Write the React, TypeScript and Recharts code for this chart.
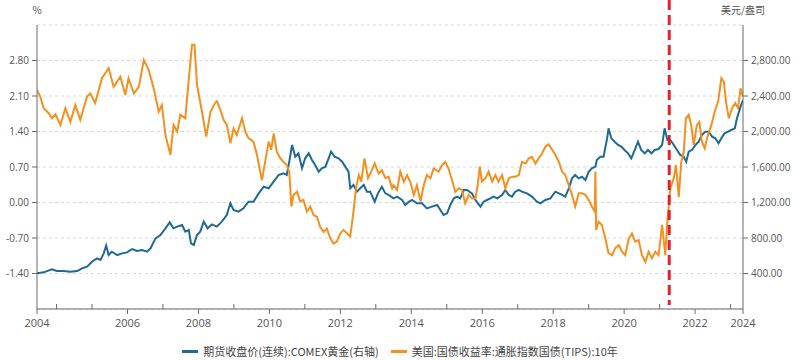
import React from 'react';
import { LineChart, Line, XAxis, YAxis, CartesianGrid, ReferenceLine, Legend } from 'recharts';

// ---- Data ----
const goldName = '期货收盘价(连续):COMEX黄金(右轴)';
const tipsName = '美国:国债收益率:通胀指数国债(TIPS):10年';

const goldDates = [
  2003.45, 2003.64, 2003.87, 2004.01, 2004.2, 2004.39, 2004.58, 2004.72, 2004.86, 2005.0,
  2005.14, 2005.24, 2005.33, 2005.4, 2005.47, 2005.56, 2005.71, 2005.85, 2005.99, 2006.13,
  2006.27, 2006.41, 2006.55, 2006.65, 2006.79, 2006.93, 2007.07, 2007.19, 2007.3, 2007.4,
  2007.54, 2007.63, 2007.73, 2007.79, 2007.87, 2007.96, 2008.05, 2008.15, 2008.26, 2008.38,
  2008.52, 2008.66, 2008.8, 2008.9, 2008.99, 2009.13, 2009.27, 2009.41, 2009.55, 2009.7,
  2009.84, 2009.98, 2010.12, 2010.26, 2010.4, 2010.49, 2010.56, 2010.64, 2010.73, 2010.82,
  2010.92, 2011.01, 2011.11, 2011.2, 2011.29, 2011.39, 2011.48, 2011.58, 2011.67, 2011.74,
  2011.84, 2011.95, 2012.05, 2012.14, 2012.23, 2012.28, 2012.37, 2012.47, 2012.56, 2012.66,
  2012.75, 2012.84, 2012.97, 2013.06, 2013.17, 2013.27, 2013.36, 2013.5, 2013.6, 2013.74,
  2013.83, 2013.93, 2014.02, 2014.16, 2014.3, 2014.44, 2014.58, 2014.73, 2014.82, 2014.91,
  2015.01, 2015.1, 2015.2, 2015.29, 2015.38, 2015.48, 2015.57, 2015.71, 2015.81, 2015.95,
  2016.04, 2016.13, 2016.23, 2016.32, 2016.42, 2016.56, 2016.65, 2016.75, 2016.84, 2016.93,
  2017.03, 2017.12, 2017.26, 2017.4, 2017.54, 2017.64, 2017.78, 2017.92, 2018.06, 2018.16,
  2018.25, 2018.34, 2018.44, 2018.53, 2018.62, 2018.72, 2018.81, 2018.91, 2019.0, 2019.09,
  2019.19, 2019.23, 2019.33, 2019.42, 2019.52, 2019.56, 2019.64, 2019.73, 2019.83, 2019.92,
  2020.01, 2020.11, 2020.2, 2020.3, 2020.39, 2020.48, 2020.58, 2020.67, 2020.77, 2020.86,
  2020.97, 2021.07, 2021.14, 2021.22, 2021.3, 2021.4, 2021.49, 2021.58, 2021.68, 2021.75,
  2021.82, 2021.91, 2022.01, 2022.1, 2022.19, 2022.29, 2022.38, 2022.48, 2022.57, 2022.66,
  2022.74, 2022.83, 2022.93, 2023.02, 2023.12, 2023.18, 2023.28, 2023.35,
];
const goldValues = [
  402, 413, 447, 428, 428, 420, 428, 458, 477, 533,
  571, 552, 627, 714, 608, 646, 608, 627, 638, 676,
  653, 665, 646, 684, 796, 834, 909, 976, 909, 928,
  947, 871, 890, 740, 721, 834, 871, 984, 909, 954,
  928, 984, 1059, 1191, 1115, 1097, 1134, 1209, 1209, 1303,
  1378, 1360, 1435, 1510, 1529, 1510, 1660, 1848, 1716, 1754,
  1585, 1698, 1754, 1679, 1622, 1547, 1585, 1604, 1698, 1773,
  1716, 1698, 1660, 1604, 1547, 1360, 1397, 1322, 1360, 1397,
  1322, 1322, 1209, 1303, 1378, 1303, 1285, 1247, 1266, 1228,
  1172, 1209, 1228, 1191, 1191, 1134, 1153, 1172, 1115, 1059,
  1078, 1172, 1247, 1266, 1247, 1341, 1341, 1303, 1228, 1153,
  1209, 1228, 1247, 1266, 1247, 1285, 1341, 1285, 1266, 1322,
  1341, 1322, 1303, 1266, 1209, 1191, 1228, 1247, 1322, 1303,
  1285, 1266, 1360, 1472, 1510, 1472, 1491, 1454, 1547, 1585,
  1604, 1679, 1716, 1716, 1923, 2036, 1923, 1885, 1848, 1829,
  1792, 1754, 1698, 1792, 1885, 1792, 1754, 1792, 1754, 1792,
  1803, 1848, 2036, 1904, 1904, 1848, 1792, 1735, 1716, 1660,
  1773, 1792, 1848, 1885, 1961, 1998, 1998, 1942, 1923, 1867,
  1923, 1979, 1998, 2017, 2036, 2149, 2280, 2355,
];

const tipsDates = [
  2003.45, 2003.54, 2003.64, 2003.78, 2003.87, 2003.97, 2004.11, 2004.25, 2004.39, 2004.53,
  2004.67, 2004.86, 2004.95, 2005.09, 2005.28, 2005.47, 2005.61, 2005.8, 2005.94, 2006.03,
  2006.18, 2006.32, 2006.46, 2006.6, 2006.74, 2006.88, 2006.97, 2007.07, 2007.21, 2007.3,
  2007.4, 2007.49, 2007.63, 2007.73, 2007.82, 2007.89, 2007.96, 2008.1, 2008.22, 2008.34,
  2008.47, 2008.52, 2008.62, 2008.71, 2008.8, 2008.9, 2008.99, 2009.08, 2009.23, 2009.32,
  2009.41, 2009.55, 2009.65, 2009.74, 2009.79, 2009.88, 2009.98, 2010.05, 2010.12, 2010.21,
  2010.31, 2010.4, 2010.49, 2010.56, 2010.62, 2010.68, 2010.78, 2010.87, 2010.96, 2011.06,
  2011.15, 2011.25, 2011.34, 2011.43, 2011.53, 2011.62, 2011.72, 2011.81, 2011.9, 2012.0,
  2012.09, 2012.19, 2012.28, 2012.37, 2012.44, 2012.52, 2012.59, 2012.68, 2012.78, 2012.87,
  2012.97, 2013.08, 2013.17, 2013.27, 2013.36, 2013.46, 2013.5, 2013.6, 2013.69, 2013.79,
  2013.88, 2013.97, 2014.07, 2014.16, 2014.26, 2014.35, 2014.44, 2014.54, 2014.63, 2014.77,
  2014.87, 2014.96, 2015.05, 2015.15, 2015.24, 2015.34, 2015.43, 2015.52, 2015.62, 2015.71,
  2015.81, 2015.87, 2015.93, 2015.99, 2016.09, 2016.18, 2016.28, 2016.37, 2016.46, 2016.56,
  2016.65, 2016.75, 2016.84, 2016.93, 2017.03, 2017.12, 2017.22, 2017.31, 2017.4, 2017.5,
  2017.59, 2017.69, 2017.78, 2017.87, 2017.97, 2018.06, 2018.16, 2018.25, 2018.34, 2018.44,
  2018.53, 2018.62, 2018.72, 2018.81, 2018.91, 2019.0, 2019.09, 2019.17, 2019.19, 2019.21,
  2019.28, 2019.37, 2019.47, 2019.56, 2019.66, 2019.75, 2019.85, 2019.94, 2020.03, 2020.13,
  2020.22, 2020.31, 2020.41, 2020.5, 2020.6, 2020.69, 2020.78, 2020.88, 2020.97, 2021.07,
  2021.11, 2021.16, 2021.21, 2021.3, 2021.4, 2021.46, 2021.54, 2021.61, 2021.68, 2021.74,
  2021.82, 2021.89, 2021.96, 2022.05, 2022.12, 2022.19, 2022.27, 2022.36, 2022.46, 2022.55,
  2022.65, 2022.74, 2022.81, 2022.87, 2022.95, 2023.04, 2023.13, 2023.21, 2023.28, 2023.35,
];
const tipsValues = [
  2.22, 2.09, 1.86, 1.76, 1.66, 1.74, 1.53, 1.86, 1.59, 1.92,
  1.63, 2.09, 2.15, 1.96, 2.45, 2.65, 2.28, 2.48, 2.12, 2.45,
  2.15, 2.28, 2.81, 2.61, 2.25, 1.79, 1.92, 1.33, 0.94, 1.53,
  1.4, 1.73, 1.66, 2.45, 3.11, 3.11, 2.32, 1.79, 1.3, 1.79,
  1.96, 2.0, 1.82, 1.63, 1.53, 1.17, 1.46, 1.33, 1.66, 1.4,
  1.27, 1.2, 0.94, 0.61, 0.44, 0.8, 1.2, 1.04, 1.36, 1.0,
  0.87, 0.8, 0.74, 0.61, -0.08, 0.15, 0.21, 0.02, 0.05, -0.18,
  -0.08, -0.25, -0.28, -0.48, -0.58, -0.51, -0.71, -0.81, -0.77, -0.61,
  -0.54, -0.61, -0.67, -0.18, 0.28, 0.54, 0.41, 0.87, 0.48, 0.61,
  0.77, 0.57, 0.64, 0.48, 0.51, 0.28, 0.34, 0.25, 0.61, 0.41,
  0.54, 0.41, 0.15, 0.34, 0.02, 0.34, 0.54, 0.48, 0.67, 0.61,
  0.74, 0.8, 0.67, 0.44, 0.21, 0.28, 0.25, -0.02, 0.15, 0.08,
  0.08, 0.34, 0.71, 0.41, 0.48, 0.61, 0.41, 0.54, 0.41, 0.54,
  0.28, 0.48, 0.51, 0.51, 0.54, 0.8, 0.77, 0.87, 0.9, 0.77,
  0.87, 0.97, 1.1, 1.15, 1.04, 0.94, 0.8, 0.61, 0.54, 0.34,
  0.15, -0.08, 0.18, 0.18, 0.15, 0.05, -0.08, -0.18, 0.61, -0.54,
  -0.38, -0.44, -0.71, -1.0, -1.04, -0.9, -0.84, -0.97, -1.04, -0.71,
  -0.61, -0.77, -0.74, -1.04, -1.17, -0.97, -1.1, -0.97, -1.04, -0.44,
  -0.71, -1.04, -0.44, 0.28, 0.48, 0.74, 0.11, 0.8, 1.0, 1.66,
  1.73, 1.53, 1.13, 1.53, 1.59, 1.2, 1.07, 1.33, 1.53, 1.79,
  1.99, 2.45, 2.38, 1.99, 1.66, 1.86, 1.96, 1.86, 2.25, 2.09,
];

const xDomain = [2003.45, 2023.35];
const xTickValues = [
  2003.45, 2004, 2005, 2006, 2007, 2008, 2009, 2010, 2011, 2012, 2013, 2014,
  2015, 2016, 2017, 2018, 2019, 2020, 2021, 2022, 2023, 2023.35,
];
const xTickLabels = [
  '2004', '', '', '2006', '', '2008', '', '2010', '', '2012', '', '2014',
  '', '2016', '', '2018', '', '2020', '', '2022', '', '2024',
];

const leftDomain = [-2.1, 3.5];
const leftTickValues = [-2.1, -1.4, -0.7, 0, 0.7, 1.4, 2.1, 2.8, 3.5];
const leftTickLabels = ['', '-1.40', '-0.70', '0.00', '0.70', '1.40', '2.10', '2.80', ''];

const rightDomain = [0, 3200];
const rightTickValues = [0, 400, 800, 1200, 1600, 2000, 2400, 2800, 3200];
const rightTickLabels = ['', '400.00', '800.00', '1,200.00', '1,600.00', '2,000.00', '2,400.00', '2,800.00', ''];

const markerDate = 2021.27;

const leftUnit = '%';
const rightUnit = '美元/盎司';

// ---- Build series ----
const goldData = goldDates.map((t, i) => ({ t, v: goldValues[i] }));
const tipsData = tipsDates.map((t, i) => ({ t, v: tipsValues[i] }));

const GOLD = '#1f6a95';
const TIPS = '#f3901f';
const FONT = '"Open Sans", "Noto Sans CJK SC", sans-serif';
const CJK = '"Noto Sans CJK SC", "Open Sans", sans-serif';
const AXIS = '#6b6b6b';
const LABEL = '#555';

const findIdx = (arr: number[], v: number) => arr.findIndex((a) => Math.abs(a - v) < 1e-6);

const XTick = (props: any) => {
  const { x, y, payload } = props;
  const i = findIdx(xTickValues, payload.value);
  const label = i >= 0 ? xTickLabels[i] : '';
  const major = label !== '';
  return (
    <g>
      <line x1={x} x2={x} y1={y} y2={major ? y + 5 : y - 5} stroke={AXIS} strokeWidth={1} />
      {major && (
        <text x={x} y={y + 18} textAnchor="middle" fill={LABEL} fontSize={11} fontFamily={FONT}>
          {label}
        </text>
      )}
    </g>
  );
};

const LeftTick = (props: any) => {
  const { x, y, payload } = props;
  const i = findIdx(leftTickValues, payload.value);
  const label = i >= 0 ? leftTickLabels[i] : '';
  if (!label) return <g />;
  return (
    <g>
      <line x1={x - 5} x2={x} y1={y} y2={y} stroke={AXIS} strokeWidth={1} />
      <text x={x - 8} y={y} dy="0.35em" textAnchor="end" fill={LABEL} fontSize={10} fontFamily={FONT}>
        {label}
      </text>
    </g>
  );
};

const RightTick = (props: any) => {
  const { x, y, payload } = props;
  const i = findIdx(rightTickValues, payload.value);
  const label = i >= 0 ? rightTickLabels[i] : '';
  if (!label) return <g />;
  return (
    <g>
      <line x1={x} x2={x + 5} y1={y} y2={y} stroke={AXIS} strokeWidth={1} />
      <text x={x + 8} y={y} dy="0.35em" textAnchor="start" fill={LABEL} fontSize={10} fontFamily={FONT}>
        {label}
      </text>
    </g>
  );
};

const UnitLabel = (props: any) => {
  const { viewBox, text, side } = props;
  if (!viewBox) return null;
  const x = side === 'left' ? viewBox.x + viewBox.width : viewBox.x;
  return (
    <text x={x} y={viewBox.y - 15} dy="0.35em" textAnchor="middle" fill={LABEL} fontSize={10} fontFamily={CJK}>
      {text}
    </text>
  );
};

const LegendContent = () => (
  <div
    style={{
      height: 26,
      display: 'flex',
      justifyContent: 'center',
      alignItems: 'flex-end',
      fontFamily: CJK,
      fontSize: 11,
      color: '#444',
      boxSizing: 'border-box',
      paddingBottom: 1,
    }}
  >
    {[
      { name: goldName, color: GOLD },
      { name: tipsName, color: TIPS },
    ].map((it, k) => (
      <div key={k} style={{ display: 'flex', alignItems: 'center', marginLeft: k ? 12 : 0, lineHeight: '16px' }}>
        <span style={{ display: 'inline-block', width: 16, height: 3, background: it.color, marginRight: 5 }} />
        <span>{it.name}</span>
      </div>
    ))}
  </div>
);

const RedShape = (p: any) => {
  const yb = Math.max(p.y1, p.y2);
  return <line x1={p.x1} x2={p.x2} y1={0} y2={yb - 4} stroke="#e5202b" strokeWidth={3} strokeDasharray="10 5" />;
};

export default function App() {
  return (
    <div style={{ position: 'absolute', left: 0, top: 0, width: 800, height: 360, background: '#fff' }}>
      <LineChart width={800} height={360} margin={{ top: 25, right: 0, bottom: 0, left: 0 }}>
        <CartesianGrid yAxisId="left" vertical={false} stroke="#d9d9d9" strokeDasharray="3 3" />
        <XAxis
          type="number"
          dataKey="t"
          domain={xDomain}
          ticks={xTickValues}
          interval={0}
          allowDataOverflow
          tick={<XTick />}
          tickLine={false}
          tickSize={0}
          tickMargin={0}
          axisLine={{ stroke: AXIS }}
          height={25}
        />
        <YAxis
          yAxisId="left"
          orientation="left"
          domain={leftDomain}
          ticks={leftTickValues}
          interval={0}
          allowDataOverflow
          width={37}
          tick={<LeftTick />}
          tickLine={false}
          tickSize={0}
          tickMargin={0}
          axisLine={{ stroke: AXIS }}
          label={<UnitLabel text={leftUnit} side="left" />}
        />
        <YAxis
          yAxisId="right"
          orientation="right"
          domain={rightDomain}
          ticks={rightTickValues}
          interval={0}
          allowDataOverflow
          width={57}
          tick={<RightTick />}
          tickLine={false}
          tickSize={0}
          tickMargin={0}
          axisLine={{ stroke: AXIS }}
          label={<UnitLabel text={rightUnit} side="right" />}
        />
        <Legend verticalAlign="bottom" height={26} content={<LegendContent />} />
        <Line
          yAxisId="right"
          data={goldData}
          dataKey="v"
          name={goldName}
          stroke={GOLD}
          strokeWidth={2}
          dot={false}
          activeDot={false}
          isAnimationActive={false}
        />
        <Line
          yAxisId="left"
          data={tipsData}
          dataKey="v"
          name={tipsName}
          stroke={TIPS}
          strokeWidth={2}
          dot={false}
          activeDot={false}
          isAnimationActive={false}
        />
        <ReferenceLine yAxisId="left" x={markerDate} shape={RedShape} />
      </LineChart>
    </div>
  );
}
